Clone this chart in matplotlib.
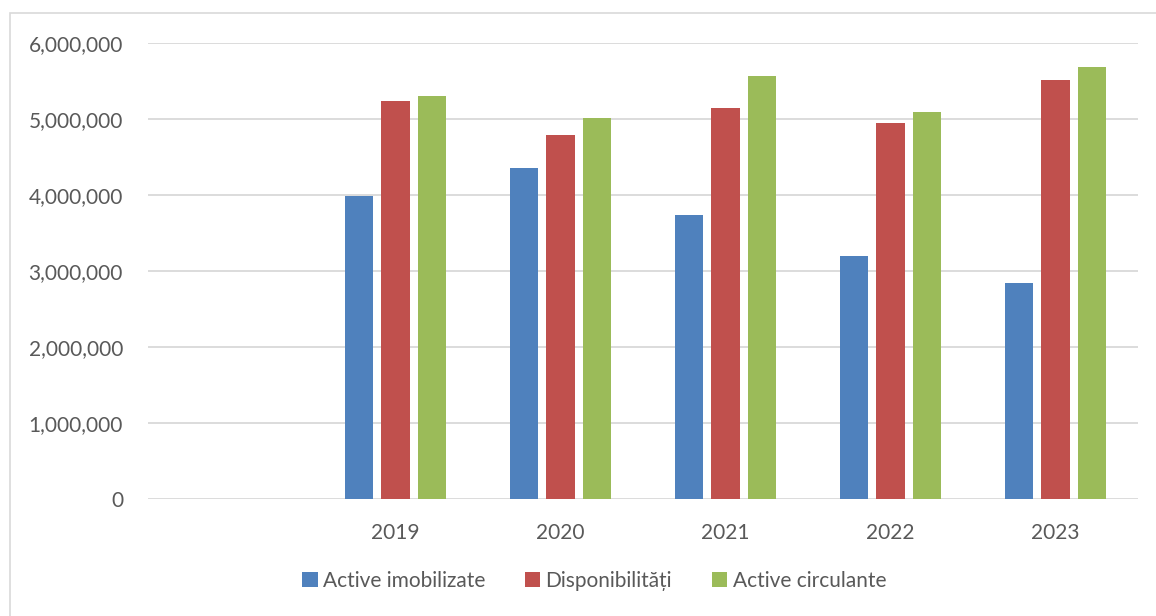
import matplotlib.pyplot as plt
import matplotlib.patches as patches
from matplotlib.ticker import FuncFormatter
import numpy as np

# first category is empty in the source chart
years = ["", "2019", "2020", "2021", "2022", "2023"]
active_imobilizate = [0, 3990000, 4351000, 3742000, 3203000, 2847000]
disponibilitati = [0, 5242000, 4790000, 5150000, 4953000, 5518000]
active_circulante = [0, 5308000, 5010000, 5560000, 5092000, 5690000]

series = [
    ("Active imobilizate", active_imobilizate, "#4f81bd"),
    ("Disponibilități", disponibilitati, "#c0504d"),
    ("Active circulante", active_circulante, "#9bbb59"),
]

plt.rcParams['font.family'] = ['Lato', 'DejaVu Sans']
text_col = "#595959"

fig = plt.figure(figsize=(11.56, 6.16), dpi=100)
ax = fig.add_axes([148 / 1156, 1 - 499 / 616, (1138 - 148) / 1156, (499 - 43) / 616])

# outer chart frame (only left/top edges fall inside the image)
fig.patches.append(patches.Rectangle((10 / 1156, -0.1), 1.2, 1 - 13 / 616 + 0.1,
                                     transform=fig.transFigure, fill=False,
                                     edgecolor="#d9d9d9", linewidth=1.2))

x = np.arange(len(years))
w = 0.172
step = 0.221
for i, (name, vals, col) in enumerate(series):
    ax.bar(x + (i - 1) * step, vals, width=w, color=col, label=name, zorder=3)

ax.set_xlim(-0.5, len(years) - 0.5)
ax.set_ylim(0, 6000000)
ax.set_yticks(np.arange(0, 6000001, 1000000))
ax.yaxis.set_major_formatter(FuncFormatter(lambda v, p: f"{int(v):,}"))
ax.set_xticks(x)
ax.set_xticklabels(years)
ax.grid(axis="y", color="#d9d9d9", linewidth=1.3, zorder=0)
for s in ax.spines.values():
    s.set_visible(False)
ax.tick_params(axis="both", length=0, labelsize=15, colors=text_col)
ax.tick_params(axis="y", pad=18)
ax.tick_params(axis="x", pad=17)

leg = fig.legend(loc="center", bbox_to_anchor=(594 / 1156, 1 - 581 / 616), ncol=3,
                 frameon=False, fontsize=15, handlelength=0.75, handleheight=0.75,
                 handletextpad=0.25, columnspacing=1.9)
for t in leg.get_texts():
    t.set_color(text_col)

fig.savefig("out.png", dpi=100)
